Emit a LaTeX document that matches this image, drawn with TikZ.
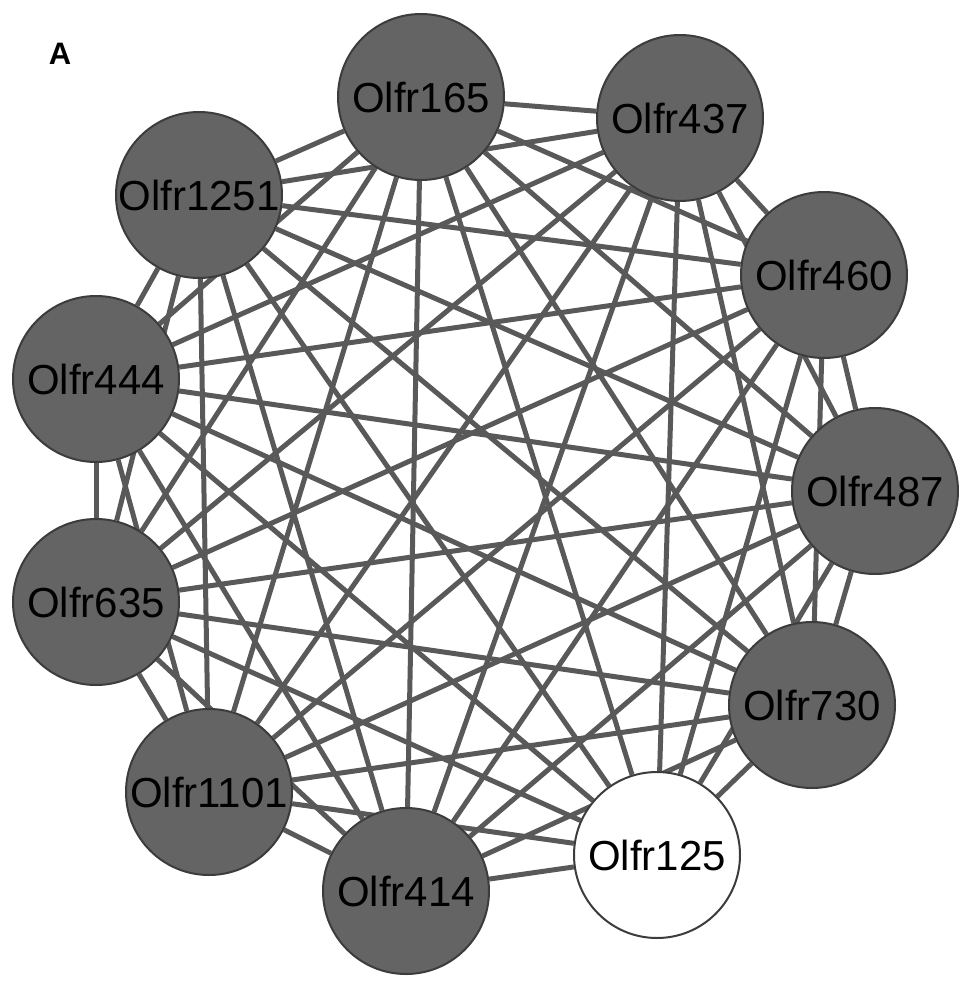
\documentclass[tikz,border=0pt]{standalone}
\usepackage{fontspec}
\setmainfont{Liberation Sans}
\usetikzlibrary{backgrounds}
\definecolor{genefill}{HTML}{646464}
\definecolor{generim}{HTML}{3C3C3C}
\definecolor{linkgray}{HTML}{595959}

\begin{document}
\begin{tikzpicture}[x=1pt,y=-1pt,
    gene/.style={circle,draw=generim,line width=2pt,fill=genefill,
      minimum size=166pt,inner sep=0pt,font=\fontsize{42}{42}\selectfont},
    link/.style={draw=linkgray,line width=5pt}]
    \useasboundingbox (0,0) rectangle (971,988);
    % panel letter
    \node[font=\bfseries\fontsize{31}{31}\selectfont] (panel) at (60,54) {A};
    % genes on the ring
    \node[gene] (o165) at (421,97) {Olfr165};
    \node[gene] (o437) at (680,118) {Olfr437};
    \node[gene] (o460) at (824,275) {Olfr460};
    \node[gene] (o487) at (875,491) {Olfr487};
    \node[gene] (o730) at (812,705) {Olfr730};
    \node[gene,fill=white] (o125) at (657,855) {Olfr125};
    \node[gene] (o414) at (406,891) {Olfr414};
    \node[gene] (o1101) at (209,792) {Olfr1101};
    \node[gene] (o635) at (96,602) {Olfr635};
    \node[gene] (o444) at (96,379) {Olfr444};
    \node[gene] (o1251) at (199,195) {Olfr1251};
    % every pair is linked
    \begin{scope}[on background layer]
      \foreach \a [count=\i] in {o165,o437,o460,o487,o730,o125,o414,o1101,o635,o444,o1251} {
        \foreach \b [count=\j] in {o165,o437,o460,o487,o730,o125,o414,o1101,o635,o444,o1251} {
          \ifnum\j>\i
            \draw[link] (\a) -- (\b);
          \fi
        }
      }
    \end{scope}
  \end{tikzpicture}
\end{document}
